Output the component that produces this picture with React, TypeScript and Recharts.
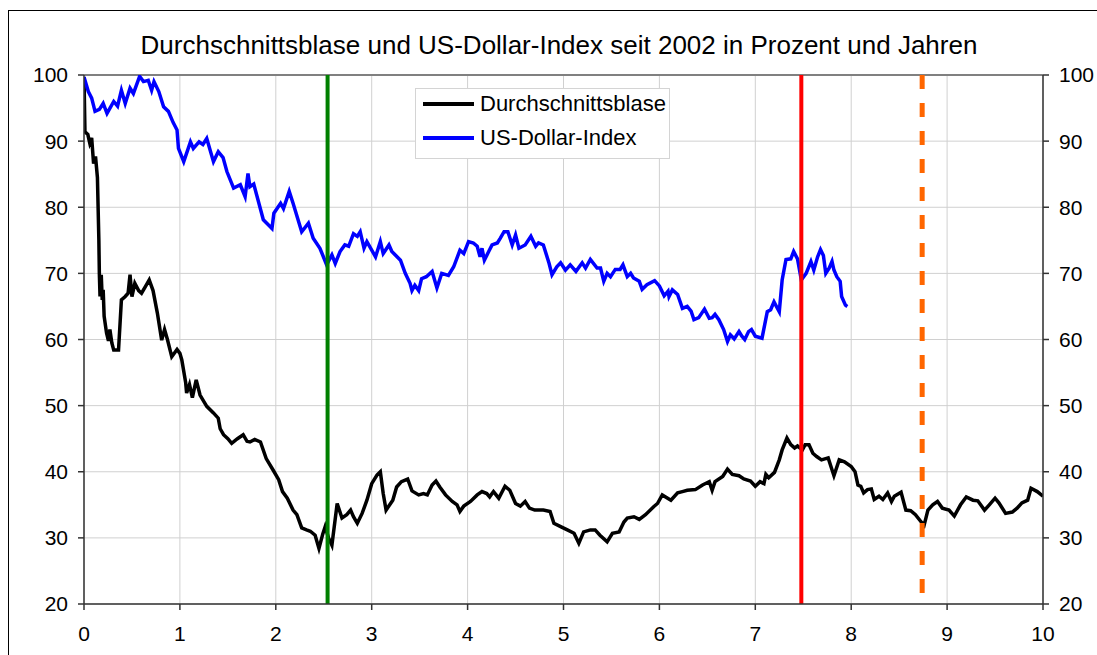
import React from 'react';
import {
  LineChart,
  Line,
  XAxis,
  YAxis,
  CartesianGrid,
  ReferenceLine,
  Legend,
} from 'recharts';

// Durchschnittsblase (years since 2002, percent)
const blaseYears = [
  0, 0.01, 0.04, 0.06, 0.08, 0.1, 0.12, 0.14, 0.155, 0.16, 0.167, 0.18, 0.19, 0.2, 0.21, 0.235,
  0.255, 0.27, 0.29, 0.31, 0.36, 0.39, 0.43, 0.46, 0.48, 0.5, 0.53, 0.57, 0.6, 0.64, 0.68, 0.72,
  0.765, 0.81, 0.84, 0.87, 0.915, 0.97, 1.0, 1.02, 1.06, 1.07, 1.1, 1.13, 1.17, 1.21, 1.28, 1.35,
  1.4, 1.42, 1.455, 1.5, 1.54, 1.6, 1.66, 1.7, 1.73, 1.78, 1.84, 1.9, 1.97, 2.03, 2.07, 2.12,
  2.18, 2.22, 2.27, 2.32, 2.36, 2.41, 2.45, 2.49, 2.515, 2.55, 2.585, 2.64, 2.69, 2.74, 2.78, 2.81,
  2.85, 2.9, 2.95, 3.0, 3.055, 3.09, 3.12, 3.15, 3.22, 3.26, 3.31, 3.375, 3.42, 3.49, 3.54, 3.58,
  3.63, 3.67, 3.71, 3.77, 3.84, 3.89, 3.92, 3.96, 4.03, 4.1, 4.15, 4.2, 4.23, 4.27, 4.325, 4.39,
  4.44, 4.5, 4.55, 4.6, 4.645, 4.7, 4.79, 4.86, 4.9, 4.97, 5.04, 5.11, 5.16, 5.21, 5.28, 5.33,
  5.38, 5.455, 5.51, 5.58, 5.63, 5.665, 5.735, 5.79, 5.855, 5.94, 5.98, 6.03, 6.12, 6.19, 6.24, 6.29,
  6.375, 6.45, 6.52, 6.55, 6.58, 6.66, 6.71, 6.76, 6.83, 6.88, 6.95, 7.0, 7.05, 7.09, 7.11, 7.14,
  7.2, 7.25, 7.28, 7.33, 7.37, 7.41, 7.44, 7.49, 7.52, 7.56, 7.6, 7.64, 7.69, 7.76, 7.82, 7.875,
  7.93, 8.0, 8.04, 8.07, 8.1, 8.13, 8.17, 8.21, 8.24, 8.29, 8.33, 8.38, 8.42, 8.45, 8.52, 8.57,
  8.62, 8.67, 8.73, 8.76, 8.8, 8.85, 8.9, 8.95, 9.02, 9.075, 9.14, 9.2, 9.27, 9.32, 9.39, 9.44,
  9.5, 9.54, 9.61, 9.68, 9.73, 9.78, 9.84, 9.875, 9.94, 10.0,
];
const blaseValues = [
  99.7, 91.4, 91.0, 89.7, 90.5, 86.6, 87.7, 84.5, 75, 70, 66.5, 69.8, 66, 67.5, 63.5, 61,
  59.8, 61.5, 59.5, 58.4, 58.4, 66, 66.5, 67, 69.8, 66.5, 68.5, 67.4, 67, 68, 69, 67.4,
  64, 59.9, 61.5, 60, 57.4, 58.5, 57.9, 56.9, 53.5, 51.9, 53.2, 51.2, 53.9, 51.6, 49.9, 48.9,
  48.1, 46.5, 45.6, 45, 44.3, 45, 45.6, 44.6, 44.5, 44.9, 44.5, 42, 40.3, 38.8, 37, 36,
  34.2, 33.5, 31.5, 31.2, 31.0, 30.4, 28.4, 30.6, 31.7, 30, 28.9, 35.2, 33, 33.5, 34.2, 33.2,
  32.2, 33.7, 35.7, 38.2, 39.5, 40.0, 36.7, 34.2, 35.7, 37.7, 38.5, 38.9, 37.1, 36.5, 36.7, 36.5,
  38, 38.6, 37.7, 36.5, 35.5, 35, 34.0, 34.8, 35.5, 36.5, 37.0, 36.7, 36.2, 37, 36, 37.8,
  37.2, 35.2, 34.8, 35.5, 34.5, 34.2, 34.2, 34, 32.2, 31.7, 31.2, 30.7, 29.2, 30.9, 31.2, 31.2,
  30.4, 29.4, 30.7, 30.9, 32.4, 33, 33.2, 32.8, 33.5, 34.7, 35.2, 36.5, 35.7, 36.8, 37, 37.2,
  37.3, 38, 38.5, 37.2, 38.5, 39.3, 40.4, 39.6, 39.4, 38.9, 38.6, 37.8, 38.5, 38.2, 39.6, 39.1,
  39.9, 41.8, 43.3, 45.1, 44.1, 43.6, 43.9, 43.3, 44.1, 44.1, 42.8, 42.3, 41.8, 42.1, 39.4, 41.8,
  41.5, 40.8, 40.0, 38, 37.8, 36.8, 37.3, 37.4, 35.8, 36.3, 35.8, 36.8, 35.5, 36.3, 36.9, 34.2,
  34.1, 33.5, 32.4, 31.9, 34.2, 35, 35.5, 34.5, 34.2, 33.3, 35, 36.2, 35.7, 35.6, 34.2, 35,
  36, 35.3, 33.7, 33.9, 34.5, 35.3, 35.7, 37.5, 37.0, 36.3,
];

// US-Dollar-Index (indexed, start = 100)
const dollarYears = [
  0, 0.045, 0.08, 0.115, 0.16, 0.2, 0.24, 0.31, 0.35, 0.39, 0.43, 0.48, 0.515, 0.58, 0.62, 0.67,
  0.705, 0.73, 0.78, 0.83, 0.88, 0.93, 0.97, 0.985, 1.04, 1.08, 1.11, 1.14, 1.2, 1.24, 1.28, 1.35,
  1.4, 1.45, 1.49, 1.56, 1.63, 1.68, 1.71, 1.73, 1.77, 1.87, 1.96, 1.98, 2.05, 2.08, 2.14, 2.18,
  2.27, 2.34, 2.39, 2.46, 2.53, 2.585, 2.62, 2.67, 2.72, 2.76, 2.81, 2.85, 2.88, 2.92, 2.95, 3.04,
  3.09, 3.12, 3.18, 3.21, 3.3, 3.35, 3.4, 3.42, 3.45, 3.49, 3.52, 3.57, 3.63, 3.68, 3.73, 3.8,
  3.855, 3.92, 3.96, 4.01, 4.06, 4.1, 4.13, 4.15, 4.175, 4.22, 4.255, 4.31, 4.34, 4.38, 4.42, 4.465,
  4.5, 4.535, 4.6, 4.66, 4.71, 4.74, 4.79, 4.85, 4.88, 4.93, 4.97, 5.02, 5.07, 5.13, 5.195, 5.23,
  5.28, 5.35, 5.386, 5.42, 5.455, 5.49, 5.54, 5.59, 5.62, 5.665, 5.7, 5.73, 5.79, 5.82, 5.87, 5.95,
  6.0, 6.05, 6.09, 6.1, 6.135, 6.19, 6.24, 6.29, 6.33, 6.36, 6.41, 6.47, 6.52, 6.55, 6.58, 6.62,
  6.67, 6.71, 6.74, 6.78, 6.83, 6.86, 6.89, 6.93, 6.96, 7.0, 7.07, 7.125, 7.16, 7.195, 7.25, 7.28,
  7.32, 7.37, 7.4, 7.44, 7.48, 7.53, 7.58, 7.61, 7.65, 7.68, 7.71, 7.735, 7.77, 7.8, 7.82, 7.85,
  7.885, 7.9, 7.94, 7.96,
];
const dollarValues = [
  99.7, 97.5, 96.5, 94.5, 94.8, 95.7, 94.2, 96, 95.3, 97.7, 95.7, 98, 97.2, 99.8, 99, 99.2,
  97.7, 99, 97.5, 95.2, 94.5, 92.8, 91.7, 88.9, 86.9, 88.6, 89.9, 88.9, 89.9, 89.5, 90.4, 86.9,
  88.4, 87.5, 85.4, 82.9, 83.4, 81.6, 85.1, 83.1, 83.5, 78.1, 76.8, 79.1, 80.6, 79.8, 82.4, 80.6,
  76.3, 77.6, 75.3, 73.8, 71.3, 72.8, 71.5, 73.3, 74.3, 74.1, 76, 75.6, 76.3, 73.8, 74.8, 72.5,
  74.8, 73, 74.3, 73.3, 72, 70, 68.5, 67.4, 68.2, 67.4, 69.2, 69.5, 70.3, 67.8, 70, 69.7,
  71, 73.5, 73, 74.8, 74.6, 74.1, 72.5, 73.8, 72, 73.3, 74.3, 74.6, 75.3, 76.3, 76.3, 74.3,
  75.8, 73.8, 74.3, 75.6, 74.1, 74.6, 74.3, 71.5, 69.8, 71.0, 71.6, 70.5, 71.3, 70.3, 71.6, 70.8,
  72.1, 70.8, 70.8, 68.8, 70, 69.5, 70.6, 70.6, 71.3, 69.5, 70, 69.3, 68.8, 67.6, 68.3, 68.9,
  68.1, 66.6, 67.3, 66.5, 67.5, 66.8, 64.7, 65, 64.3, 63, 63.3, 64.6, 63.2, 63.3, 63.8, 63,
  61.5, 59.7, 60.7, 60.1, 61.2, 60.5, 60, 61.2, 61.5, 60.5, 60.2, 64.2, 64.5, 65.7, 64.2, 69,
  72.1, 72.2, 73.3, 72.2, 69, 70, 71.8, 70.5, 72.5, 73.6, 72.7, 70, 70.8, 71.8, 70.5, 69.5,
  68.8, 66.5, 65.2, 65.0,
];

// vertical markers (years)
const markerYears = [2.54, 7.48, 8.74];
const dashedMarkerRange = [100, 21.5];

const xTicks = [0, 1, 2, 3, 4, 5, 6, 7, 8, 9, 10];
const yTicks = [20, 30, 40, 50, 60, 70, 80, 90, 100];

const blaseData = blaseYears.map((x, i) => ({ x, y: blaseValues[i] }));
const dollarData = dollarYears.map((x, i) => ({ x, y: dollarValues[i] }));
const dashedData = dashedMarkerRange.map((y) => ({ x: markerYears[2], y }));

const FONT = '"Liberation Sans", Arial, sans-serif';
const AXIS = '#333333';
const GRID = '#d0d0d0';
const TICK = { fill: '#000', fontSize: 21, fontFamily: FONT };

const LegendBox = () => (
  <div
    style={{
      width: 253,
      height: 69,
      border: '1px solid #d4d4d4',
      background: '#fff',
      fontFamily: FONT,
      fontSize: 22,
      color: '#000',
      boxSizing: 'content-box',
    }}
  >
    {[
      { name: 'Durchschnittsblase', color: '#000000' },
      { name: 'US-Dollar-Index', color: '#0000ff' },
    ].map((item, i) => (
      <div
        key={item.name}
        style={{ display: 'flex', alignItems: 'center', height: 34, marginTop: i === 0 ? -2 : 0 }}
      >
        <div style={{ width: 51, height: 4, background: item.color, marginLeft: 7, marginRight: 6 }} />
        <span>{item.name}</span>
      </div>
    ))}
  </div>
);

const App: React.FC = () => {
  return (
    <div
      style={{
        position: 'fixed',
        left: 0,
        top: 0,
        width: 1097,
        height: 655,
        overflow: 'hidden',
        background: '#fff',
        fontFamily: FONT,
      }}
    >
      <div
        style={{
          position: 'absolute',
          left: 8,
          top: 10,
          width: 1200,
          height: 700,
          borderLeft: '1px solid #000',
          borderTop: '1px solid #000',
        }}
      >
        <div
          style={{
            position: 'absolute',
            left: 0,
            top: 19,
            width: 1100,
            textAlign: 'center',
            fontSize: 26,
            color: '#000',
            whiteSpace: 'nowrap',
          }}
        >
          Durchschnittsblase und US-Dollar-Index seit 2002 in Prozent und Jahren
        </div>
        <div style={{ position: 'absolute', left: 0, top: 0 }}>
          <LineChart
            width={1088}
            height={643}
            margin={{ top: 64, right: 4, bottom: 10, left: 15 }}
          >
            <CartesianGrid stroke={GRID} strokeWidth={1} />
            <XAxis
              type="number"
              dataKey="x"
              domain={[0, 10]}
              ticks={xTicks}
              interval={0}
              allowDataOverflow
              height={40}
              stroke={AXIS}
              strokeWidth={1.5}
              tickSize={6}
              tickMargin={16}
              tick={TICK}
            />
            <YAxis
              type="number"
              domain={[20, 100]}
              ticks={yTicks}
              interval={0}
              allowDataOverflow
              width={60}
              stroke={AXIS}
              strokeWidth={1.5}
              tickSize={6}
              tickMargin={10}
              tick={TICK}
            />
            <YAxis
              yAxisId="right"
              orientation="right"
              type="number"
              domain={[20, 100]}
              ticks={yTicks}
              interval={0}
              allowDataOverflow
              width={50}
              stroke={AXIS}
              strokeWidth={1.5}
              tickSize={6}
              tickMargin={10}
              tick={TICK}
            />
            <ReferenceLine y={100} stroke="#808080" strokeWidth={2} />
            <Line
              data={blaseData}
              dataKey="y"
              name="Durchschnittsblase"
              type="linear"
              stroke="#000000"
              strokeWidth={3.5}
              dot={false}
              isAnimationActive={false}
            />
            <Line
              data={dollarData}
              dataKey="y"
              name="US-Dollar-Index"
              type="linear"
              stroke="#0000ff"
              strokeWidth={3.5}
              dot={false}
              isAnimationActive={false}
            />
            <ReferenceLine x={markerYears[0]} stroke="#008000" strokeWidth={4} />
            <ReferenceLine x={markerYears[1]} stroke="#ff0000" strokeWidth={4} />
            <Line
              data={dashedData}
              dataKey="y"
              type="linear"
              stroke="#ff6600"
              strokeWidth={5}
              strokeDasharray="14 14"
              dot={false}
              legendType="none"
              isAnimationActive={false}
            />
            <Legend
              layout="vertical"
              align="center"
              verticalAlign="middle"
              wrapperStyle={{ left: 406, top: 77, width: 255 }}
              content={() => <LegendBox />}
            />
          </LineChart>
        </div>
      </div>
    </div>
  );
};

export default App;
